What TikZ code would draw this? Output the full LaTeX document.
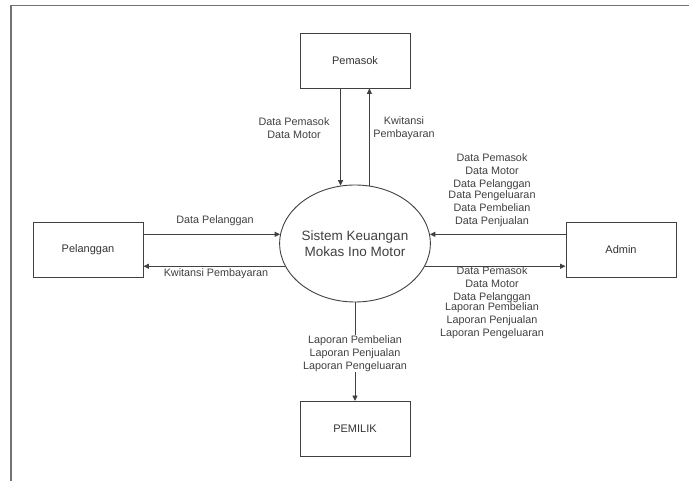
\documentclass[tikz,border=0pt]{standalone}
\usepackage{fontspec}
\setmainfont{Liberation Sans}
\usetikzlibrary{arrows.meta,shapes.geometric}
\begin{document}
\begin{tikzpicture}[x=1pt,y=-1pt,
  entity/.style={draw=black!75,line width=0.9pt,minimum width=110pt,minimum height=55pt,inner sep=0pt,text=black!80,font=\fontsize{11}{13}\selectfont},
  proc/.style={draw=black!75,line width=0.9pt,ellipse,minimum width=128pt,minimum height=117pt,inner sep=0pt,text=black!75,align=center,font=\fontsize{13.5}{16}\selectfont},
  flow/.style={draw=black!75,line width=0.9pt,-{Triangle[length=5.5pt,width=5pt]}},
  lbl/.style={text=black!75,align=center,inner sep=0pt,font=\fontsize{10.8}{13}\selectfont},
  frame/.style={draw=black!55,line width=1.6pt}]
\useasboundingbox (0,0) rectangle (689,481);
\draw[frame] (11,481) -- (11,5.5) -- (689,5.5);
\node[entity] (pem) at (355,60.5) {Pemasok};
\node[entity] (pel) at (88,249.5) {Pelanggan};
\node[entity] (adm) at (621,249.5) {Admin};
\node[entity] (own) at (355,429) {PEMILIK};
\node[proc] (sys) at (355,243.5) {Sistem Keuangan\\Mokas Ino Motor};
% Pemasok flows
\draw[flow] (pem.south -| sys.104) -- (sys.104);
\draw[flow] (sys.76.5) -- (pem.south -| sys.76.5);
\node[lbl] (l1) at (294,128) {Data Pemasok\\Data Motor};
\node[lbl] (l2) at (404,128) {Kwitansi\\Pembayaran};
% Pelanggan flows
\draw[flow] (pel.east |- sys.173.5) -- (sys.173.5);
\draw[flow] (sys.198) -- (pel.east |- sys.198);
\node[lbl] (l3) at (215,221) {Data Pelanggan};
\node[lbl] (l4) at (216,274) {Kwitansi Pembayaran};
% Admin flows
\draw[flow] (adm.west |- sys.7) -- (sys.7);
\draw[flow] (sys.-18) -- (adm.west |- sys.-18);
\node[lbl] (l5) at (492,190) {Data Pemasok\\Data Motor\\Data Pelanggan\\[-2pt]Data Pengeluaran\\Data Pembelian\\Data Penjualan};
\node[lbl] (l6) at (492,302.5) {Data Pemasok\\Data Motor\\Data Pelanggan\\[-3pt]Laporan Pembelian\\Laporan Penjualan\\Laporan Pengeluaran};
% Pemilik flow
\draw[flow] (sys.south) -- (own.north);
\node[lbl,fill=white] (l7) at (355,353.5) {Laporan Pembelian\\Laporan Penjualan\\Laporan Pengeluaran};
\end{tikzpicture}
\end{document}
